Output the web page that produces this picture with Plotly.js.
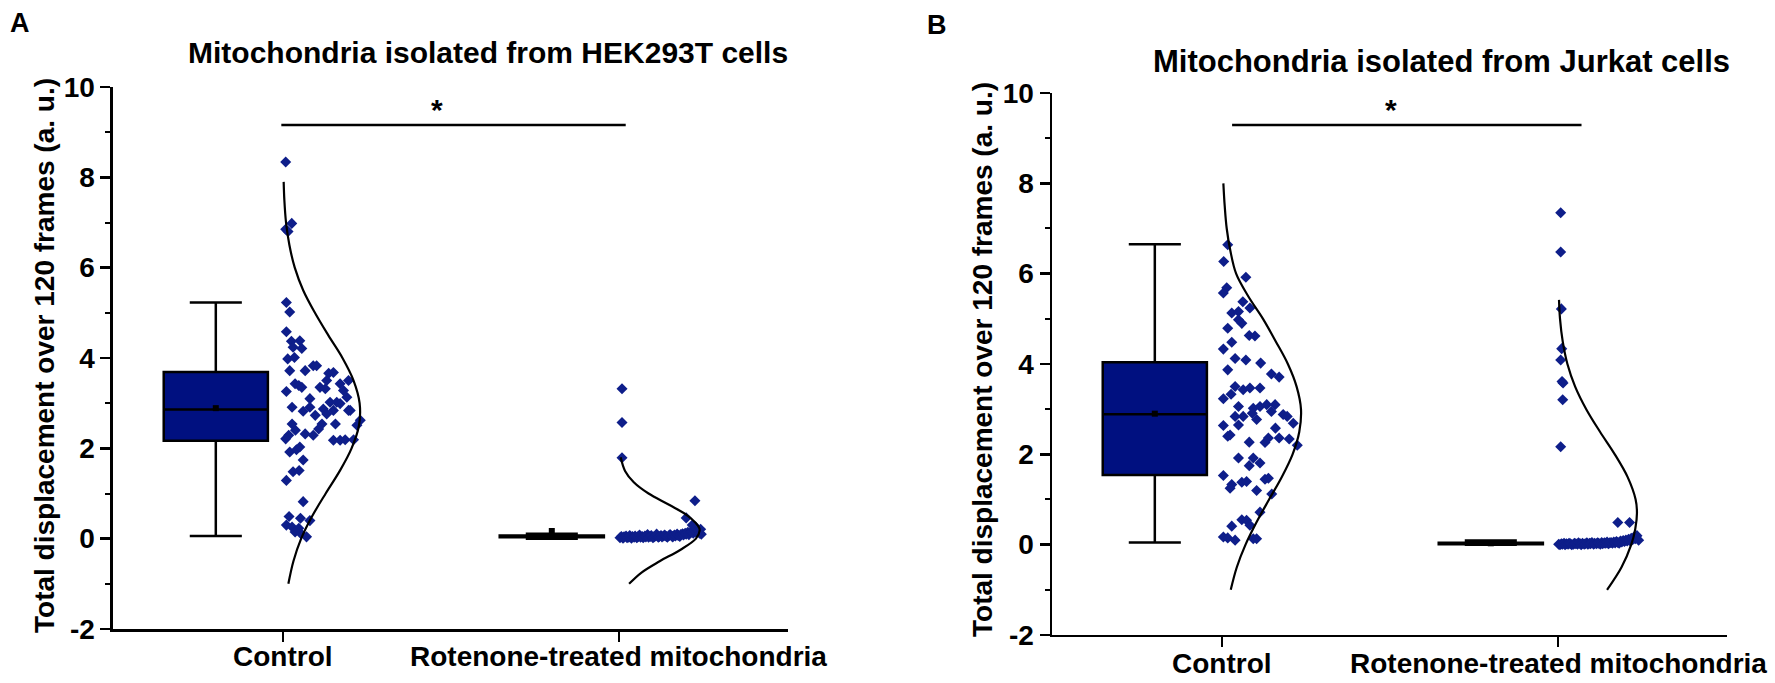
<!DOCTYPE html>
<html>
<head>
<meta charset="utf-8">
<script src="https://cdn.plot.ly/plotly-3.0.1.min.js"></script>
<style>html,body{margin:0;padding:0;background:#fff;}#chart{width:1775px;height:683px;}</style>
</head>
<body>
<div id="chart"></div>
<script>
// ---------- categories / labels ----------
var categories = ['Control', 'Rotenone-treated mitochondria'];
var catPos = [1, 2];
var panelTitles = ['Mitochondria isolated from HEK293T cells', 'Mitochondria isolated from Jurkat cells'];
var yTitle = 'Total displacement over 120 frames (a. u.)';
var yTickVals = [-2, 0, 2, 4, 6, 8, 10];
var yTickText = ['-2', '0', '2', '4', '6', '8', '10'];

// ---------- box statistics ----------
// panel A (HEK293T): [Control, Rotenone]
var boxA_lower = [0.06, 0.0];
var boxA_q1 = [2.17, 0.03];
var boxA_median = [2.86, 0.05];
var boxA_q3 = [3.69, 0.07];
var boxA_upper = [5.23, 0.11];
var boxA_mean = [2.89, 0.17];
// panel B (Jurkat)
var boxB_lower = [0.05, 0.0];
var boxB_q1 = [1.54, 0.01];
var boxB_median = [2.89, 0.02];
var boxB_q3 = [4.04, 0.04];
var boxB_upper = [6.65, 0.09];
var boxB_mean = [2.9, 0.03];

// ---------- individual points (value, horizontal jitter offset) ----------
var ptsA_ctrl_val = [8.34,6.98,6.85,6.8,5.23,5.02,4.58,4.37,4.38,4.24,4.21,3.98,4.01,3.72,3.72,3.83,3.83,3.66,3.68,3.5,3.5,3.43,3.39,3.35,3.26,3.35,3.32,3.43,3.28,3.13,3.1,2.91,2.91,3.02,3.02,2.99,2.87,2.82,2.84,2.84,2.73,2.76,2.84,2.54,2.54,2.54,2.62,2.51,2.4,2.43,2.29,2.21,2.32,2.29,2.18,2.18,2.19,2.19,1.92,1.97,2.03,1.74,1.48,1.51,1.29,0.82,0.49,0.45,0.4,0.3,0.26,0.15,0.12,0.04,0.23];
var ptsA_ctrl_off = [0.008,0.026,0.008,0.015,0.01,0.02,0.01,0.025,0.05,0.03,0.056,0.014,0.034,0.02,0.066,0.09,0.1,0.136,0.15,0.13,0.195,0.036,0.047,0.056,0.01,0.11,0.126,0.17,0.18,0.19,0.08,0.027,0.08,0.14,0.16,0.17,0.12,0.06,0.195,0.2,0.096,0.13,0.15,0.027,0.116,0.156,0.23,0.22,0.037,0.106,0.017,0.008,0.066,0.09,0.15,0.17,0.185,0.21,0.02,0.04,0.05,0.06,0.03,0.048,0.01,0.06,0.018,0.052,0.08,0.01,0.027,0.036,0.052,0.07,0.047];

var ptsA_rot_val = [3.32,2.57,1.79,0.84,0.46,
  0.02,0.05,0.01,0.04,0.06,0.02,0.03,0.07,0.01,0.05,0.03,0.06,0.02,0.04,0.08,0.03,0.05,0.02,0.06,0.04,
  0.09,0.03,0.05,0.07,0.02,0.04,0.06,0.1,0.03,0.05,0.07,0.04,0.06,0.08,0.05,0.03,0.07,0.09,0.06,0.04,
  0.08,0.06,0.1,0.07,0.05,0.09,0.11,0.08,0.12,0.1,0.14,0.09,0.13,0.16,0.12,0.18,0.15,0.22,0.17,0.12,
  0.26,0.3,0.21,0.1];
var ptsA_rot_off = [0.009,0.009,0.009,0.226,0.2,
  0.003,0.007,0.012,0.015,0.021,0.024,0.029,0.032,0.037,0.04,0.045,0.048,0.053,0.056,0.061,0.064,0.069,0.072,0.077,0.08,
  0.085,0.088,0.093,0.096,0.101,0.104,0.109,0.112,0.117,0.12,0.125,0.128,0.133,0.136,0.141,0.144,0.149,0.152,0.157,0.16,
  0.165,0.168,0.173,0.176,0.181,0.184,0.189,0.192,0.197,0.2,0.205,0.208,0.213,0.216,0.221,0.224,0.229,0.232,0.236,0.24,
  0.228,0.218,0.243,0.245];

var ptsB_ctrl_val = [6.64,6.27,5.92,5.69,5.57,5.38,5.24,5.13,5.16,4.9,4.98,4.79,4.63,4.62,4.48,4.33,4.12,4.09,4.02,3.87,3.78,3.71,3.5,3.43,3.47,3.47,3.33,3.23,3.06,3.02,3.06,3.1,3.1,2.84,2.84,2.91,2.95,2.88,2.84,2.65,2.77,2.69,2.64,2.58,2.43,2.4,2.36,2.34,2.27,2.26,2.36,2.2,1.92,1.92,1.75,1.81,1.53,1.33,1.25,1.38,1.4,1.45,1.47,1.2,1.12,0.72,0.55,0.54,0.43,0.41,0.17,0.15,0.1,0.13,0.13];
var ptsB_ctrl_off = [0.017,0.005,0.071,0.014,0.004,0.062,0.083,0.029,0.049,0.059,0.049,0.017,0.081,0.098,0.029,0.004,0.039,0.071,0.115,0.017,0.147,0.17,0.039,0.063,0.083,0.113,0.027,0.004,0.049,0.093,0.113,0.133,0.158,0.039,0.063,0.09,0.147,0.182,0.194,0.049,0.103,0.212,0.004,0.159,0.024,0.017,0.17,0.2,0.081,0.128,0.138,0.224,0.049,0.093,0.081,0.113,0.004,0.029,0.024,0.059,0.073,0.128,0.138,0.103,0.148,0.113,0.059,0.073,0.083,0.029,0.004,0.017,0.039,0.093,0.103];

var ptsB_rot_val = [7.35,6.48,5.22,4.34,4.09,3.61,3.58,3.21,2.17,0.49,0.49,
  0.01,0.0,0.02,0.01,0.03,0.0,0.02,0.01,0.03,0.02,0.0,0.01,0.03,0.02,0.01,0.04,0.02,0.0,0.03,0.01,
  0.02,0.04,0.01,0.03,0.02,0.05,0.01,0.03,0.02,0.04,0.03,0.01,0.05,0.02,0.04,0.03,0.06,0.02,0.04,0.05,
  0.03,0.06,0.04,0.07,0.05,0.03,0.08,0.06,0.09,0.07,0.1,0.08,0.12,0.09,0.14,0.11,0.17,0.13,0.2,0.1];
var ptsB_rot_off = [0.008,0.008,0.01,0.011,0.008,0.012,0.015,0.014,0.008,0.178,0.213,
  0.002,0.006,0.01,0.013,0.018,0.021,0.025,0.03,0.033,0.037,0.041,0.046,0.049,0.053,0.058,0.061,0.066,0.069,0.073,0.078,
  0.081,0.086,0.089,0.094,0.097,0.101,0.106,0.109,0.114,0.118,0.121,0.126,0.13,0.133,0.138,0.142,0.146,0.15,0.154,0.158,
  0.162,0.166,0.17,0.174,0.178,0.182,0.186,0.19,0.194,0.198,0.202,0.206,0.21,0.214,0.218,0.222,0.226,0.23,0.235,0.24];

// ---------- distribution curves (value, curve width offset) ----------
var curveA_ctrl_y = [-1,-0.5,0,0.5,1,1.5,2,2.5,3,3.5,4,4.5,5,5.5,6,6.5,7,7.5,7.9];
var curveA_ctrl_w = [0.016,0.031,0.054,0.087,0.127,0.169,0.204,0.226,0.228,0.21,0.177,0.135,0.095,0.06,0.035,0.019,0.009,0.004,0.002];
var curveA_rot_y = [-1,-0.75,-0.5,-0.25,0,0.18,0.25,0.5,0.75,1,1.25,1.5,1.8];
var curveA_rot_w = [0.03,0.067,0.121,0.182,0.229,0.24,0.238,0.206,0.149,0.088,0.044,0.018,0.005];
var curveB_ctrl_y = [-1,-0.5,0,0.5,1,1.5,2,2.5,3,3.5,4,4.5,5,5.5,6,6.5,7,7.5,8];
var curveB_ctrl_w = [0.026,0.044,0.07,0.103,0.14,0.178,0.21,0.23,0.235,0.222,0.196,0.16,0.122,0.078,0.042,0.025,0.014,0.008,0.004];
var curveB_rot_y = [-1,-0.5,0,0.35,0.7,1,1.5,2,2.5,3,3.5,4,4.5,5,5.42];
var curveB_rot_w = [0.146,0.189,0.218,0.23,0.235,0.231,0.207,0.169,0.125,0.084,0.051,0.028,0.014,0.006,0.003];

// significance bars: [x start, x end, y] and asterisk position
var sigA = [0.995, 2.02, 9.16];
var sigB = [1.03, 2.07, 9.29];
var starA = [1.458, 9.50];
var starB = [1.503, 9.63];

// ---------- build ----------
var FONT = 'Liberation Sans, Arial, Helvetica, sans-serif';
var BOXCOL = '#001080';
var PTCOL = '#0E1E8A';
var BOXOFF = -0.2;

function add(arr, k) { return arr.map(function (v) { return v + k; }); }

function panel(xa, ya, lower, q1, med, q3, upper, mean, p1v, p1o, p2v, p2o, c1y, c1w, c2y, c2w) {
  var tr = [];
  tr.push({
    type: 'box', xaxis: xa, yaxis: ya,
    x: [catPos[0] + BOXOFF, catPos[1] + BOXOFF],
    lowerfence: lower, q1: q1, median: med, q3: q3, upperfence: upper,
    width: 0.31, whiskerwidth: 0.5,
    fillcolor: BOXCOL, line: { color: '#000000', width: 2.5 },
    boxpoints: false, hoverinfo: 'skip'
  });
  tr.push({
    type: 'scatter', mode: 'markers', xaxis: xa, yaxis: ya,
    x: [catPos[0] + BOXOFF, catPos[1] + BOXOFF], y: mean,
    marker: { symbol: 'square', size: 6, color: '#000000' }, hoverinfo: 'skip'
  });
  tr.push({
    type: 'scatter', mode: 'markers', xaxis: xa, yaxis: ya,
    x: add(p1o, catPos[0]), y: p1v,
    marker: { symbol: 'diamond', size: 8.5, color: PTCOL }, hoverinfo: 'skip'
  });
  tr.push({
    type: 'scatter', mode: 'markers', xaxis: xa, yaxis: ya,
    x: add(p2o, catPos[1]), y: p2v,
    marker: { symbol: 'diamond', size: 8.5, color: PTCOL }, hoverinfo: 'skip'
  });
  tr.push({
    type: 'scatter', mode: 'lines', xaxis: xa, yaxis: ya,
    x: add(c1w, catPos[0]), y: c1y,
    line: { color: '#000000', width: 2.2, shape: 'spline', smoothing: 1 }, hoverinfo: 'skip'
  });
  tr.push({
    type: 'scatter', mode: 'lines', xaxis: xa, yaxis: ya,
    x: add(c2w, catPos[1]), y: c2y,
    line: { color: '#000000', width: 2.2, shape: 'spline', smoothing: 1 }, hoverinfo: 'skip'
  });
  return tr;
}

var data = [].concat(
  panel('x', 'y', boxA_lower, boxA_q1, boxA_median, boxA_q3, boxA_upper, boxA_mean,
    ptsA_ctrl_val, ptsA_ctrl_off, ptsA_rot_val, ptsA_rot_off,
    curveA_ctrl_y, curveA_ctrl_w, curveA_rot_y, curveA_rot_w),
  panel('x2', 'y2', boxB_lower, boxB_q1, boxB_median, boxB_q3, boxB_upper, boxB_mean,
    ptsB_ctrl_val, ptsB_ctrl_off, ptsB_rot_val, ptsB_rot_off,
    curveB_ctrl_y, curveB_ctrl_w, curveB_rot_y, curveB_rot_w)
);

var tickFont = { family: FONT, size: 28, color: '#000000', weight: 'bold' };
function xax(dom, anchor) {
  return {
    domain: dom, anchor: anchor, range: [0.494, 2.503],
    tickmode: 'array', tickvals: catPos, ticktext: categories, showticklabels: false,
    ticks: 'outside', ticklen: 10, tickwidth: 2, tickcolor: '#000',
    showline: true, linewidth: 2.5, linecolor: '#000',
    showgrid: false, zeroline: false, tickfont: tickFont, fixedrange: true
  };
}
function yax(dom, anchor) {
  return {
    domain: dom, anchor: anchor, range: [-2, 10],
    tickmode: 'array', tickvals: yTickVals, ticktext: yTickText,
    ticks: 'outside', ticklen: 10, tickwidth: 2.5, tickcolor: '#000',
    minor: { tickmode: 'array', tickvals: [-1, 1, 3, 5, 7, 9], ticks: 'outside', ticklen: 5, tickwidth: 2, tickcolor: '#000' },
    showline: true, linewidth: 2.5, linecolor: '#000',
    showgrid: false, zeroline: false, tickfont: tickFont, fixedrange: true
  };
}

var annFont = { family: FONT, size: 28, color: '#000000', weight: 'bold' };
var annotations = [
  { xref: 'x', yref: 'y', x: starA[0], y: starA[1], text: '*', showarrow: false, font: { family: FONT, size: 30, color: '#000', weight: 'bold' } },
  { xref: 'x2', yref: 'y2', x: starB[0], y: starB[1], text: '*', showarrow: false, font: { family: FONT, size: 30, color: '#000', weight: 'bold' } },
  { xref: 'paper', yref: 'paper', x: 488 / 1775, y: 1 - 52 / 683, xanchor: 'center', yanchor: 'middle', text: panelTitles[0], showarrow: false, font: { family: FONT, size: 30, color: '#000', weight: 'bold' } },
  { xref: 'paper', yref: 'paper', x: 1441 / 1775, y: 1 - 61 / 683, xanchor: 'center', yanchor: 'middle', text: panelTitles[1], showarrow: false, font: { family: FONT, size: 31, color: '#000', weight: 'bold' } },
  { xref: 'paper', yref: 'paper', x: 20 / 1775, y: 1 - 23 / 683, xanchor: 'center', yanchor: 'middle', text: 'A', showarrow: false, font: { family: FONT, size: 27, color: '#000', weight: 'bold' } },
  { xref: 'paper', yref: 'paper', x: 937 / 1775, y: 1 - 25 / 683, xanchor: 'center', yanchor: 'middle', text: 'B', showarrow: false, font: { family: FONT, size: 27, color: '#000', weight: 'bold' } },
  { xref: 'paper', yref: 'paper', x: 44 / 1775, y: 1 - 356 / 683, xanchor: 'center', yanchor: 'middle', textangle: -90, text: yTitle, showarrow: false, font: annFont },
  { xref: 'paper', yref: 'paper', x: 982 / 1775, y: 1 - 360 / 683, xanchor: 'center', yanchor: 'middle', textangle: -90, text: yTitle, showarrow: false, font: annFont }
];
// category labels under each x axis
var labelY = [1 - 656 / 683, 1 - 663 / 683];
['x', 'x2'].forEach(function (ax, p) {
  categories.forEach(function (c, i) {
    annotations.push({ xref: ax, yref: 'paper', x: catPos[i], y: labelY[p], xanchor: 'center', yanchor: 'middle', text: c, showarrow: false, font: annFont });
  });
});

var layout = {
  width: 1775, height: 683,
  margin: { l: 0, r: 0, t: 0, b: 0 },
  paper_bgcolor: '#ffffff', plot_bgcolor: '#ffffff',
  showlegend: false,
  xaxis: xax([0.06366, 0.44394], 'y'),
  yaxis: yax([0.07906, 0.87262], 'x'),
  xaxis2: xax([0.59268, 0.97296], 'y2'),
  yaxis2: yax([0.07028, 0.86384], 'x2'),
  shapes: [
    { type: 'line', xref: 'x', yref: 'y', x0: sigA[0], x1: sigA[1], y0: sigA[2], y1: sigA[2], line: { color: '#000', width: 2.5 } },
    { type: 'line', xref: 'x2', yref: 'y2', x0: sigB[0], x1: sigB[1], y0: sigB[2], y1: sigB[2], line: { color: '#000', width: 2.5 } }
  ],
  annotations: annotations
};

Plotly.newPlot('chart', data, layout, { staticPlot: true, displayModeBar: false });
</script>
</body>
</html>
